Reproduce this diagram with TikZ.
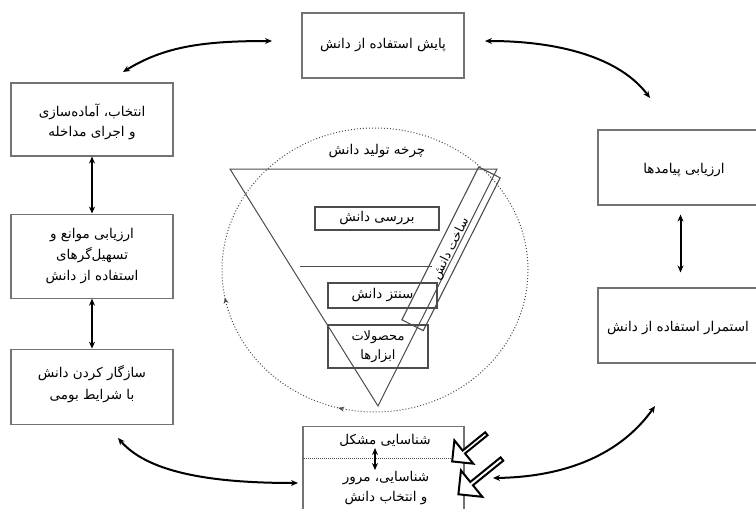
\documentclass[tikz,border=0pt]{standalone}
\usepackage{fontspec}
\newfontfamily\arabicfont[Script=Arabic]{DejaVu Sans}
\TeXXeTstate=1
\usetikzlibrary{arrows.meta,shapes.arrows,positioning,decorations.markings}
\newcommand{\fa}[1]{\beginR #1\endR}

\begin{document}
\begin{tikzpicture}[x=1pt, y=-1pt,
    box/.style={draw=black!55, line width=1.1pt, rectangle, inner sep=0pt, fill=white},
    lbl/.style={font=\arabicfont\fontsize{13.5}{21}\selectfont, align=center, inner sep=1pt},
    link/.style={line width=2pt, {Stealth[length=7pt,width=6pt]}-{Stealth[length=7pt,width=6pt]}},
    hint/.style={single arrow, draw, line width=2pt, fill=white, single arrow head extend=7pt, inner sep=0pt}]
    \useasboundingbox (0,0) rectangle (756,509);

    % dotted knowledge circle
    \draw [dotted, black!70, line width=1pt,
        postaction={decorate, decoration={markings,
            mark=at position 0.71 with {\arrowreversed[solid]{Stealth[length=6pt,width=5pt]}},
            mark=at position 0.53 with {\arrowreversed[solid]{Stealth[length=6pt,width=5pt]}}}}]
        (375,270) ellipse [x radius=153pt, y radius=142pt];

    % inverted triangle
    \coordinate (tl) at (230,169);
    \coordinate (tr) at (497,169);
    \coordinate (apex) at (378,406);
    \draw [black!70, line width=1pt] (tl) -- (tr) -- (apex) -- cycle;
    \node [lbl] (cycle) at (377,151) {\fa{چرخه تولید دانش}};
    \coordinate (cutl) at (300,266);
    \coordinate (cutr) at (432,266);
    \draw [black!70, line width=1pt] (cutl) -- (cutr);

    \node [box, draw=black!70, rotate=63.3, minimum width=171, minimum height=24, fill=none] (build) at (451,248.8)
        {\arabicfont\fontsize{12.5}{14}\selectfont\fa{ساخت دانش}};

    \node [box, draw=black!70, minimum width=124, minimum height=23] (review) at (377,218.5) {};
    \node [lbl] (reviewtxt) at (review) {\fa{بررسی دانش}};
    \node [box, draw=black!70, minimum width=109, minimum height=25, fill=none] (synth) at (382.5,295.5) {};
    \node [lbl] (synthtxt) at (synth) {\fa{سنتز دانش}};
    \node [box, draw=black!70, minimum width=100, minimum height=43, fill=none] (tools) at (378,346.5) {};
    \node [lbl, font=\arabicfont\fontsize{13}{19}\selectfont] (toolstxt) at (tools) {\fa{محصولات}\\\fa{ابزارها}};

    % outer boxes
    \node [box, minimum width=162, minimum height=65] (monitor) at (383,45.5) {};
    \node [lbl] (monitortxt) at (monitor) {\fa{پایش استفاده از دانش}};

    \node [box, minimum width=162, minimum height=73] (select) at (92,119.5) {};
    \node [lbl, font=\arabicfont\fontsize{13.5}{20}\selectfont] (selecttxt) at ([yshift=-2pt]select.center) {\fa{انتخاب، آماده‌سازی}\\\fa{و اجرای مداخله}};
    \node [box, minimum width=162, minimum height=84, below=57pt of select] (barrier) {};
    \node [lbl] (barriertxt) at (barrier) {\fa{ارزیابی موانع و}\\\fa{تسهیل‌گرهای}\\\fa{استفاده از دانش}};
    \node [box, minimum width=162, minimum height=75, below=50pt of barrier] (adapt) {};
    \node [lbl, font=\arabicfont\fontsize{13.5}{22}\selectfont] (adapttxt) at ([yshift=3pt]adapt.center) {\fa{سازگار کردن دانش}\\\fa{با شرایط بومی}};

    \node [box, minimum width=165, minimum height=75] (outcome) at (680.5,167.5) {};
    \node [lbl] (outcometxt) at (684,170) {\fa{ارزیابی پیامدها}};
    \node [box, minimum width=165, minimum height=75] (sustain) at (680.5,325.5) {};
    \node [lbl] (sustaintxt) at (678,328) {\fa{استمرار استفاده از دانش}};

    \node [box, minimum width=161, minimum height=90, anchor=north] (problem) at (383.5,426) {};
    \coordinate (split) at (383,458);
    \draw [densely dotted, black!70, line width=1pt] (problem.west |- split) -- (problem.east |- split);
    \node [lbl] (problemtxt) at (385,440) {\fa{شناسایی مشکل}};
    \node [lbl, font=\arabicfont\fontsize{13.5}{20}\selectfont] (identtxt) at (386,488) {\fa{شناسایی، مرور}\\\fa{و انتخاب دانش}};
    \coordinate (s1) at (375,448);
    \coordinate (s2) at (375,470);
    \draw [link, line width=1.6pt] (s1) -- (s2);

    % cycle arrows
    \coordinate (a1) at (123,72);
    \coordinate (a2) at (272,41);
    \coordinate (b1) at (485,41);
    \coordinate (b2) at (650,98);
    \coordinate (c1) at (118,438);
    \coordinate (c2) at (298,483);
    \coordinate (d1) at (493,478);
    \coordinate (d2) at (655,406);
    \draw [link] (a1) .. controls (165,46) and (205,41) .. (a2);
    \draw [link] (b1) .. controls (560,41) and (620,58) .. (b2);
    \draw [link] (c1) .. controls (150,475) and (220,483) .. (c2);
    \draw [link] (d1) .. controls (565,477) and (620,455) .. (d2);

    \draw [link] (select) -- (barrier);
    \draw [link] (barrier) -- (adapt);
    \draw [link, shorten <=9pt, shorten >=15pt] (outcome) -- (sustain);

    % hollow block arrows
    \node [hint, minimum height=44, minimum width=30, rotate=219] (hint1) at (470,447) {};
    \node [hint, minimum height=56, minimum width=34, rotate=219] (hint2) at (481,476) {};
\end{tikzpicture}
\end{document}
